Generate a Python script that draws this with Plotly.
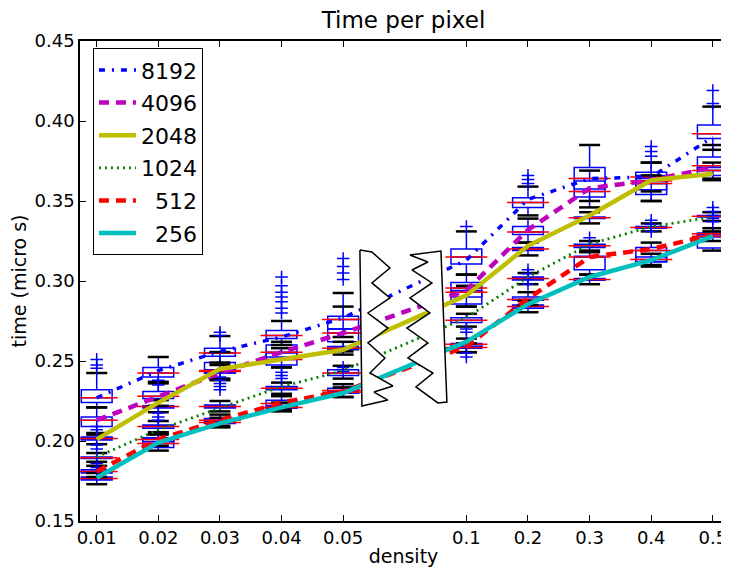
import plotly.graph_objects as go

# density positions on the axis (gap at 6 for the axis break)
POS = [1, 2, 3, 4, 5, 7, 8, 9, 10, 11]
DENSITY = ["0.01", "0.02", "0.03", "0.04", "0.05", "0.1", "0.2", "0.3", "0.4", "0.5"]

SERIES = ["8192", "4096", "2048", "1024", "512", "256"]

# mean lines
mean_8192 = [0.227, 0.244, 0.256, 0.265, 0.277, 0.313, 0.351, 0.364, 0.365, 0.390]
mean_4096 = [0.213, 0.228, 0.2425, 0.2555, 0.2675, 0.294, 0.332, 0.358, 0.363, 0.371]
mean_2048 = [0.201, 0.224, 0.245, 0.251, 0.257, 0.291, 0.322, 0.341, 0.363, 0.367]
mean_1024 = [0.190, 0.207, 0.2206, 0.234, 0.244, 0.277, 0.3025, 0.323, 0.334, 0.340]
mean_512 = [0.181, 0.201, 0.213, 0.224, 0.231, 0.259, 0.289, 0.315, 0.320, 0.329]
mean_256 = [0.177, 0.199, 0.211, 0.221, 0.230, 0.262, 0.2855, 0.3025, 0.313, 0.328]

# box statistics: q1, median, q3, whisker low, whisker high
q1_8192 = [0.224, 0.240, 0.253, 0.264, 0.270, 0.3106, 0.346, 0.3575, 0.361, 0.389]
med_8192 = [0.227, 0.2425, 0.255, 0.266, 0.276, 0.315, 0.349, 0.364, 0.365, 0.392]
q3_8192 = [0.232, 0.246, 0.258, 0.269, 0.278, 0.320, 0.352, 0.371, 0.368, 0.3975]
lo_8192 = [0.221, 0.237, 0.249, 0.260, 0.265, 0.304, 0.341, 0.350, 0.356, 0.382]
hi_8192 = [0.2425, 0.2525, 0.2656, 0.275, 0.2925, 0.331, 0.359, 0.385, 0.374, 0.409]

q1_4096 = [0.209, 0.2265, 0.2425, 0.2525, 0.262, 0.290, 0.329, 0.3525, 0.357, 0.369]
med_4096 = [0.213, 0.228, 0.244, 0.2555, 0.2675, 0.2956, 0.3306, 0.356, 0.3625, 0.372]
q3_4096 = [0.215, 0.231, 0.249, 0.260, 0.270, 0.299, 0.334, 0.3625, 0.366, 0.3775]
lo_4096 = [0.204, 0.222, 0.238, 0.246, 0.256, 0.284, 0.324, 0.346, 0.350, 0.364]
hi_4096 = [0.221, 0.236, 0.2556, 0.262, 0.284, 0.304, 0.339, 0.369, 0.374, 0.385]

q1_2048 = [0.2006, 0.2206, 0.2425, 0.2475, 0.257, 0.2856, 0.319, 0.339, 0.354, 0.366]
med_2048 = [0.2015, 0.2215, 0.2435, 0.251, 0.258, 0.293, 0.320, 0.3395, 0.361, 0.369]
q3_2048 = [0.2025, 0.222, 0.2445, 0.255, 0.259, 0.294, 0.321, 0.340, 0.364, 0.371]
lo_2048 = [0.198, 0.218, 0.239, 0.246, 0.254, 0.284, 0.316, 0.336, 0.350, 0.363]
hi_2048 = [0.205, 0.2255, 0.2475, 0.258, 0.262, 0.297, 0.324, 0.343, 0.366, 0.374]

q1_1024 = [0.189, 0.208, 0.2206, 0.232, 0.241, 0.274, 0.3006, 0.321, 0.333, 0.340]
med_1024 = [0.1895, 0.209, 0.2215, 0.233, 0.2425, 0.2755, 0.3015, 0.322, 0.3335, 0.3405]
q3_1024 = [0.190, 0.210, 0.2225, 0.234, 0.2445, 0.277, 0.3025, 0.323, 0.334, 0.341]
lo_1024 = [0.187, 0.2055, 0.2185, 0.2295, 0.239, 0.2715, 0.298, 0.319, 0.331, 0.3375]
hi_1024 = [0.1925, 0.2125, 0.225, 0.2365, 0.247, 0.2795, 0.305, 0.325, 0.336, 0.343]

q1_512 = [0.180, 0.1995, 0.212, 0.222, 0.230, 0.259, 0.288, 0.307, 0.312, 0.3275]
med_512 = [0.181, 0.201, 0.213, 0.2235, 0.2315, 0.2605, 0.2885, 0.315, 0.319, 0.3295]
q3_512 = [0.182, 0.202, 0.214, 0.2255, 0.233, 0.261, 0.290, 0.3155, 0.321, 0.330]
lo_512 = [0.1775, 0.197, 0.2095, 0.2195, 0.2275, 0.2555, 0.285, 0.304, 0.310, 0.325]
hi_512 = [0.1845, 0.2045, 0.2165, 0.228, 0.2355, 0.264, 0.293, 0.318, 0.324, 0.333]

q1_256 = [0.1756, 0.196, 0.211, 0.2205, 0.230, 0.258, 0.283, 0.3005, 0.312, 0.3206]
med_256 = [0.1765, 0.1985, 0.2115, 0.221, 0.2305, 0.2585, 0.284, 0.301, 0.3135, 0.328]
q3_256 = [0.1775, 0.2015, 0.212, 0.2215, 0.231, 0.259, 0.285, 0.3015, 0.315, 0.329]
lo_256 = [0.173, 0.194, 0.2085, 0.2185, 0.2275, 0.2555, 0.2805, 0.298, 0.309, 0.319]
hi_256 = [0.180, 0.204, 0.2145, 0.224, 0.2335, 0.261, 0.2875, 0.304, 0.317, 0.331]

# outliers (axis position, value)
flier_pos = [1, 1, 1, 1, 1, 1, 1, 1, 1,
             2, 2, 2, 2, 2,
             3, 3, 3, 3, 3, 3, 3,
             4, 4, 4, 4, 4, 4, 4, 4, 4, 4,
             5, 5, 5, 5, 5, 5,
             7, 7, 7, 7, 7,
             8, 8, 8, 8, 8, 8, 8,
             9,
             10, 10, 10, 10, 10, 10,
             11, 11, 11, 11, 11, 11, 11]
flier_val = [0.251, 0.2475, 0.2455, 0.209, 0.207, 0.1975, 0.195, 0.186, 0.1835,
             0.2175, 0.215, 0.213, 0.238, 0.235,
             0.268, 0.266, 0.240, 0.238, 0.236, 0.234, 0.232,
             0.3025, 0.297, 0.293, 0.290, 0.287, 0.283, 0.280, 0.243, 0.241, 0.239,
             0.314, 0.309, 0.305, 0.301, 0.246, 0.2435,
             0.334, 0.268, 0.270, 0.255, 0.2525,
             0.366, 0.3635, 0.361, 0.307, 0.3045, 0.301, 0.298,
             0.327,
             0.384, 0.381, 0.378, 0.338, 0.3355, 0.331,
             0.419, 0.411, 0.346, 0.3435, 0.341, 0.339, 0.337]

# axis-break outlines (x in axis positions, y in data units)
brk_left_x = [5.272, 5.467, 5.759, 5.467, 5.759, 5.402, 5.727, 5.402, 5.678, 5.435, 5.808, 5.500, 5.727, 5.305, 5.272]
brk_left_y = [0.3194, 0.3181, 0.3081, 0.2988, 0.2894, 0.2800, 0.2706, 0.2613, 0.2519, 0.2425, 0.2344, 0.2306, 0.2256, 0.2219, 0.3194]
brk_right_x = [6.084, 6.587, 6.684, 6.538, 6.181, 6.457, 6.051, 6.376, 6.035, 6.408, 6.084, 6.441, 6.116, 6.376, 6.084]
brk_right_y = [0.31625, 0.31875, 0.2244, 0.2238, 0.2338, 0.2425, 0.2519, 0.2613, 0.2706, 0.2800, 0.2894, 0.2988, 0.3069, 0.3119, 0.31625]

means = [mean_8192, mean_4096, mean_2048, mean_1024, mean_512, mean_256]
q1s = [q1_8192, q1_4096, q1_2048, q1_1024, q1_512, q1_256]
meds = [med_8192, med_4096, med_2048, med_1024, med_512, med_256]
q3s = [q3_8192, q3_4096, q3_2048, q3_1024, q3_512, q3_256]
los = [lo_8192, lo_4096, lo_2048, lo_1024, lo_512, lo_256]
his = [hi_8192, hi_4096, hi_2048, hi_1024, hi_512, hi_256]

colors = ["#0000ff", "#bf00bf", "#bfbf00", "#008000", "#ff0000", "#00bfbf"]
dashes = ["6px,7px,2px,7px", "10px,7px", "solid", "2px,4px", "10px,7px", "solid"]
widths = [3.5, 4.5, 4.5, 2.8, 4.5, 4.5]
labels = ["8192", "4096", "2048", "1024", "\u2007512", "\u2007256"]

fig = go.Figure()

# boxes
for i in range(6):
    fig.add_trace(go.Box(x=POS, q1=q1s[i], median=meds[i], q3=q3s[i],
                         lowerfence=los[i], upperfence=his[i], width=0.5,
                         line=dict(color="#0000ff", width=1.5), fillcolor="rgba(0,0,0,0)",
                         whiskerwidth=0, boxpoints=False, showlegend=False, hoverinfo="skip"))
# medians
for i in range(6):
    fig.add_trace(go.Scatter(x=POS, y=meds[i], mode="markers", showlegend=False, hoverinfo="skip",
                             marker=dict(symbol="line-ew", size=30, line=dict(color="#ff0000", width=1.5))))
# caps
for i in range(6):
    fig.add_trace(go.Scatter(x=POS + POS, y=los[i] + his[i], mode="markers", showlegend=False, hoverinfo="skip",
                             marker=dict(symbol="line-ew", size=15, line=dict(color="black", width=2.5))))
# fliers
fig.add_trace(go.Scatter(x=flier_pos, y=flier_val, mode="markers", showlegend=False, hoverinfo="skip",
                         marker=dict(symbol="cross-thin", size=9, line=dict(color="#0000ff", width=1.5))))

# mean lines
for i in range(6):
    fig.add_trace(go.Scatter(x=POS, y=means[i], mode="lines", name=labels[i], legendgroup=SERIES[i],
                             line=dict(color=colors[i], width=widths[i], dash=dashes[i])))

# axis break
for bx, by in [(brk_left_x, brk_left_y), (brk_right_x, brk_right_y)]:
    fig.add_trace(go.Scatter(x=bx, y=by, mode="lines", fill="toself", fillcolor="white",
                             line=dict(color="black", width=1.5), showlegend=False, hoverinfo="skip"))

# page body adds an 8px offset, so left/top margins are 8px tighter
font = "DejaVu Sans, Bitstream Vera Sans, sans-serif"
fig.update_layout(
    width=721, height=559,
    margin=dict(l=72, r=2, t=33, b=46),
    plot_bgcolor="white", paper_bgcolor="white",
    boxmode="overlay",
    font=dict(family=font, color="black", size=18),
    title=dict(text="Time per pixel", xref="paper", x=0.5, xanchor="center", y=0.978, yanchor="middle",
               font=dict(size=23)),
    legend=dict(x=0.02, y=0.985, xanchor="left", yanchor="top", bgcolor="white",
                bordercolor="black", borderwidth=1, font=dict(size=22),
                tracegroupgap=1, itemwidth=37),
    xaxis=dict(range=[0.729, 11.23], tickvals=POS, ticktext=DENSITY, showgrid=False, zeroline=False,
               showline=True, linecolor="black", linewidth=1.5, mirror="ticks",
               ticks="inside", ticklen=6, tickcolor="black", automargin=False,
               title=dict(text="density", font=dict(size=19), standoff=7)),
    yaxis=dict(range=[0.15, 0.45], dtick=0.05, tickformat=".2f", showgrid=False, zeroline=False,
               showline=True, linecolor="black", linewidth=1.5, mirror="ticks",
               ticks="inside", ticklen=6, tickcolor="black", automargin=False,
               title=dict(text="time (micro s)", font=dict(size=19), standoff=5)),
)

fig.write_html("out.html")
